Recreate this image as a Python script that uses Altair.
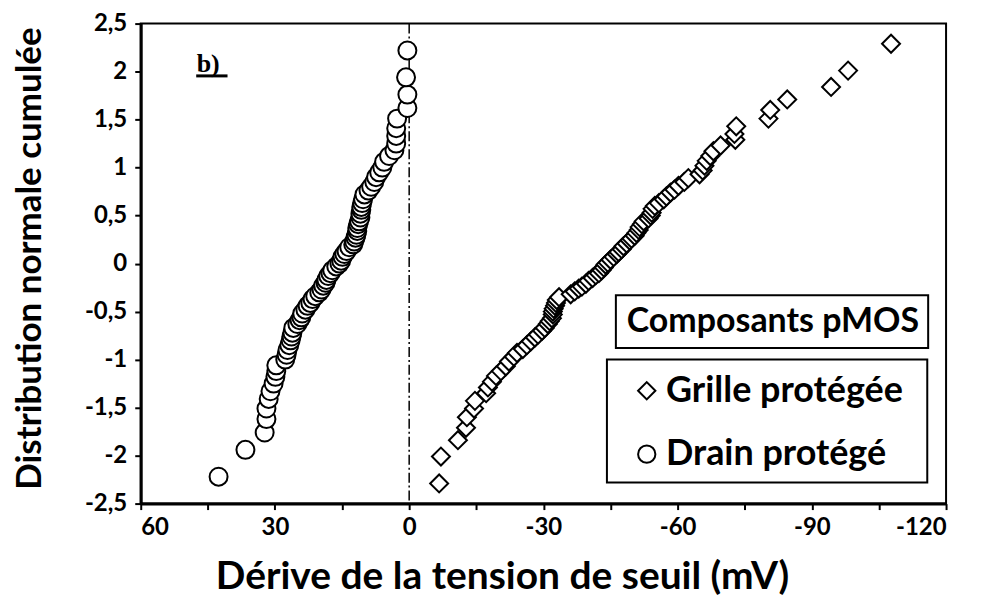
import altair as alt
import pandas as pd

# ---- data ----
series = ["Grille protégée", "Drain protégé"]
shapes = ["diamond", "circle"]

drain_x = [42.6, 36.6, 32.3, 31.9, 31.9, 31.4, 31.0, 30.3, 29.9, 29.7,
           29.7, 27.7, 27.4, 27.2, 26.8, 26.5, 26.3, 26.1, 25.9, 25.0,
           24.5, 24.1, 23.9, 23.2, 22.7, 22.1, 21.6, 21.0, 20.1, 19.6,
           19.2, 18.7, 18.5, 18.1, 17.6, 17.2, 16.3, 15.6, 15.2, 14.9,
           14.5, 14.0, 13.4, 12.5, 12.3, 12.0, 11.8, 11.6, 11.6, 11.4,
           11.2, 10.9, 10.9, 10.7, 10.7, 10.5, 10.3, 10.0, 9.1, 8.5,
           7.8, 7.4, 6.7, 6.0, 5.6, 4.5, 3.3, 2.9, 2.9, 2.9,
           2.7, 0.4, 0.4, 0.7, 0.4]
drain_y = [-2.22, -1.94, -1.76, -1.62, -1.51, -1.41, -1.33, -1.25, -1.18, -1.12,
           -1.06, -1.00, -0.95, -0.90, -0.85, -0.80, -0.76, -0.72, -0.67, -0.63,
           -0.59, -0.56, -0.52, -0.48, -0.44, -0.41, -0.37, -0.34, -0.30, -0.27,
           -0.23, -0.20, -0.17, -0.13, -0.10, -0.07, -0.03, 0.00, 0.03, 0.07,
           0.10, 0.13, 0.17, 0.20, 0.23, 0.27, 0.30, 0.34, 0.37, 0.41,
           0.44, 0.48, 0.52, 0.56, 0.59, 0.63, 0.67, 0.72, 0.76, 0.80,
           0.85, 0.90, 0.95, 1.00, 1.06, 1.12, 1.18, 1.25, 1.33, 1.41,
           1.51, 1.62, 1.76, 1.94, 2.22]

grille_x = [-6.7, -7.1, -10.9, -12.7, -12.9, -14.5, -14.7, -17.2, -17.6, -18.5,
            -19.4, -20.5, -21.6, -22.3, -23.4, -24.1, -25.4, -26.3, -27.2, -28.1,
            -28.8, -29.7, -30.3, -31.0, -31.4, -31.9, -32.1, -32.1, -32.3, -32.6,
            -32.8, -33.0, -33.5, -36.1, -37.0, -37.9, -38.6, -39.5, -40.1, -41.0,
            -41.7, -42.4, -43.0, -43.5, -43.9, -44.4, -45.0, -45.7, -46.4, -46.8,
            -47.5, -47.9, -48.6, -49.3, -49.7, -50.4, -50.8, -51.3, -51.5, -52.0,
            -52.4, -53.5, -54.0, -54.2, -54.4, -54.9, -55.8, -56.9, -57.5, -58.4,
            -59.3, -60.2, -61.5, -62.4, -64.9, -65.6, -66.0, -66.5, -67.3, -68.0,
            -69.6, -72.9, -72.7, -73.1, -80.3, -80.7, -84.5, -94.3, -98.1, -107.7]
grille_y = [-2.29, -2.01, -1.84, -1.71, -1.60, -1.51, -1.43, -1.35, -1.29, -1.23,
            -1.17, -1.12, -1.07, -1.02, -0.97, -0.93, -0.89, -0.85, -0.81, -0.77,
            -0.74, -0.70, -0.67, -0.63, -0.60, -0.57, -0.53, -0.50, -0.47, -0.44,
            -0.41, -0.38, -0.35, -0.32, -0.29, -0.26, -0.24, -0.21, -0.18, -0.15,
            -0.12, -0.10, -0.07, -0.04, -0.01, 0.01, 0.04, 0.07, 0.10, 0.12,
            0.15, 0.18, 0.21, 0.24, 0.26, 0.29, 0.32, 0.35, 0.38, 0.41,
            0.44, 0.47, 0.50, 0.53, 0.57, 0.60, 0.63, 0.67, 0.70, 0.74,
            0.77, 0.81, 0.85, 0.89, 0.93, 0.97, 1.02, 1.07, 1.12, 1.17,
            1.23, 1.29, 1.35, 1.43, 1.51, 1.60, 1.71, 1.84, 2.01, 2.29]

x_ticks = [-120, -105, -90, -75, -60, -45, -30, -15, 0, 15, 30, 45, 60]
y_ticks = [-2.5, -2.25, -2.0, -1.75, -1.5, -1.25, -1.0, -0.75, -0.5, -0.25, 0.0,
           0.25, 0.5, 0.75, 1.0, 1.25, 1.5, 1.75, 2.0, 2.25, 2.5]
zero_line = [0]

# annotation boxes / labels (data coordinates)
box_x = [-46.2, -44.2]
box_x2 = [-116.0, -115.8]
box_y = [-0.33, -1.0]
box_y2 = [-0.88, -2.28]
legend_sym_x = [-53.1, -53.1]
legend_sym_y = [-1.325, -1.985]
legend_txt_x = [-57.4, -57.4]

FONT = "Lato"

df = pd.DataFrame({
    "x": grille_x + drain_x,
    "y": grille_y + drain_y,
    "s": [series[0]] * len(grille_x) + [series[1]] * len(drain_x),
})

xscale = alt.Scale(domain=[-120, 60], reverse=True, nice=False, zero=False)
yscale = alt.Scale(domain=[-2.5, 2.5], nice=False, zero=False)
shape_scale = alt.Scale(domain=series, range=shapes)

x_axis = alt.Axis(
    values=x_ticks,
    labelExpr="datum.value % 30 == 0 ? toString(datum.value) : ''",
    title="Dérive de la tension de seuil (mV)",
    grid=False, labelPadding=6,
    titleX=362, titleY=73, titleAlign="center", titleBaseline="middle", titleFontSize=39,
)
y_axis = alt.Axis(
    values=y_ticks,
    labelExpr="abs(datum.value * 2 - round(datum.value * 2)) < 0.01 ? replace(toString(datum.value), '.', ',') : ''",
    title="Distribution normale cumulée",
    grid=False, labelPadding=8,
    titleX=-111, titleY=235, titleAlign="center", titleBaseline="middle", titleAngle=270,
    titleFontSize=35,
)

zero = alt.Chart(pd.DataFrame({"x": zero_line})).mark_rule(
    color="black", strokeWidth=1.5, strokeDash=[10, 3, 2, 3]
).encode(x=alt.X("x:Q", scale=xscale, axis=x_axis))

points = alt.Chart(df).mark_point(
    filled=True, fill="white", stroke="black", strokeWidth=2, size=324, opacity=1
).encode(
    x=alt.X("x:Q", scale=xscale, axis=x_axis),
    y=alt.Y("y:Q", scale=yscale, axis=y_axis),
    shape=alt.Shape("s:N", scale=shape_scale, legend=None),
)

boxes = alt.Chart(pd.DataFrame({"x": box_x, "x2": box_x2, "y": box_y, "y2": box_y2})).mark_rect(
    fill="white", stroke="black", strokeWidth=2
).encode(x=alt.X("x:Q", scale=xscale), x2="x2:Q", y=alt.Y("y:Q", scale=yscale), y2="y2:Q")

title_box = alt.Chart(pd.DataFrame({"x": [-81.3], "y": [-0.605], "t": ["Composants pMOS"]})).mark_text(
    font=FONT, fontWeight="bold", fontSize=34, color="black", align="center", baseline="middle"
).encode(x=alt.X("x:Q", scale=xscale), y=alt.Y("y:Q", scale=yscale), text="t:N")

leg_df = pd.DataFrame({"x": legend_sym_x, "tx": legend_txt_x, "y": legend_sym_y, "s": series})
leg_sym = alt.Chart(leg_df).mark_point(
    filled=True, fill="white", stroke="black", strokeWidth=2, size=300, opacity=1
).encode(x=alt.X("x:Q", scale=xscale), y=alt.Y("y:Q", scale=yscale),
         shape=alt.Shape("s:N", scale=shape_scale, legend=None))
leg_txt = alt.Chart(leg_df).mark_text(
    font=FONT, fontWeight="bold", fontSize=36, color="black", align="left", baseline="middle"
).encode(x=alt.X("tx:Q", scale=xscale), y=alt.Y("y:Q", scale=yscale), text="s:N")

b_label = alt.Chart(pd.DataFrame({"x": [47.5], "y": [2.0], "t": ["b)"]})).mark_text(
    font="Liberation Serif", fontWeight="bold", fontSize=26, color="black", align="left", baseline="alphabetic"
).encode(x=alt.X("x:Q", scale=xscale), y=alt.Y("y:Q", scale=yscale), text="t:N")

b_under = alt.Chart(pd.DataFrame({"x": [47.6], "x2": [40.6], "y": [1.955]})).mark_rule(
    color="black", strokeWidth=3
).encode(x=alt.X("x:Q", scale=xscale), x2="x2:Q", y=alt.Y("y:Q", scale=yscale))

chart = alt.layer(boxes, zero, points, leg_sym, leg_txt, title_box, b_label, b_under).properties(
    width=807, height=481,
    autosize=alt.AutoSizeParams(type="none"),
    padding={"left": 133, "top": 15, "right": 30, "bottom": 95},
).configure_view(
    stroke="black", strokeWidth=2
).configure_axis(
    domainColor="black", domainWidth=3, tickColor="black", tickWidth=2, tickSize=6,
    labelFont=FONT, labelFontWeight="bold", labelFontSize=24, labelColor="black",
    titleFont=FONT, titleFontWeight="bold", titleColor="black",
)

chart.save("out.html", embed_options={"renderer": "svg", "actions": False})
